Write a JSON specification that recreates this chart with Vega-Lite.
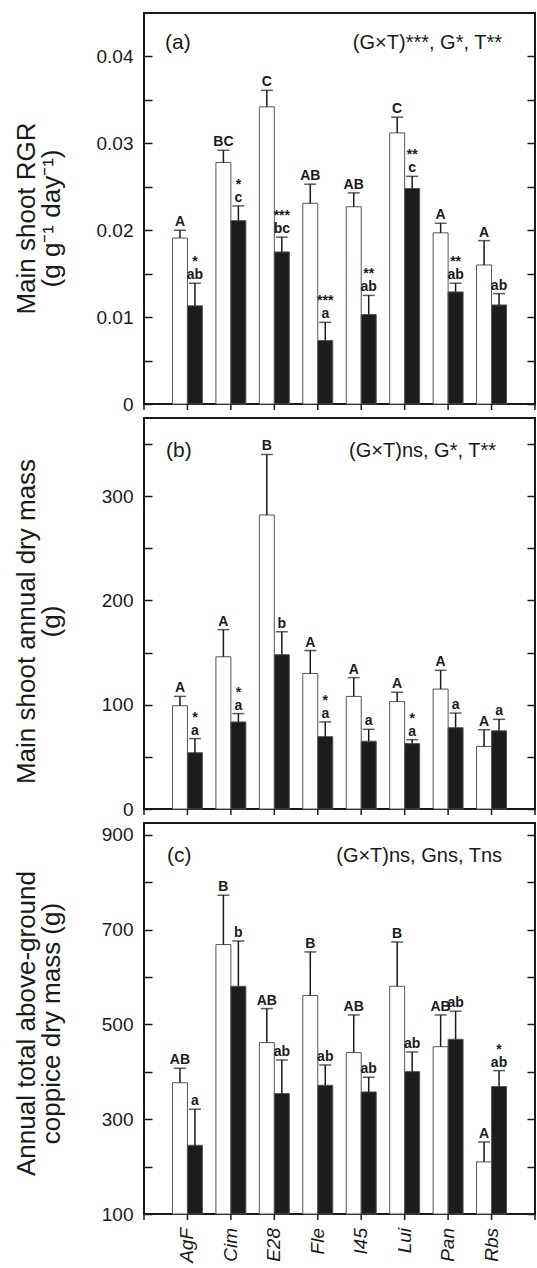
{
  "$schema": "https://vega.github.io/schema/vega-lite/v6.json",
  "padding": {"left": 11, "top": 12, "right": 0, "bottom": 0},
  "background": "white",
  "datasets": {
    "d": [
      {"p": "a", "g": "AgF", "t": "W", "m": 0.0191, "u": 0.0200, "l": "A", "s": ""},
      {"p": "a", "g": "AgF", "t": "B", "m": 0.0113, "u": 0.0139, "l": "ab", "s": "*"},
      {"p": "a", "g": "Cim", "t": "W", "m": 0.0278, "u": 0.0292, "l": "BC", "s": ""},
      {"p": "a", "g": "Cim", "t": "B", "m": 0.0211, "u": 0.0228, "l": "c", "s": "*"},
      {"p": "a", "g": "E28", "t": "W", "m": 0.0342, "u": 0.0361, "l": "C", "s": ""},
      {"p": "a", "g": "E28", "t": "B", "m": 0.0175, "u": 0.0192, "l": "bc", "s": "***"},
      {"p": "a", "g": "Fle", "t": "W", "m": 0.0231, "u": 0.0253, "l": "AB", "s": ""},
      {"p": "a", "g": "Fle", "t": "B", "m": 0.0073, "u": 0.0094, "l": "a", "s": "***"},
      {"p": "a", "g": "I45", "t": "W", "m": 0.0227, "u": 0.0243, "l": "AB", "s": ""},
      {"p": "a", "g": "I45", "t": "B", "m": 0.0103, "u": 0.0125, "l": "ab", "s": "**"},
      {"p": "a", "g": "Lui", "t": "W", "m": 0.0312, "u": 0.0330, "l": "C", "s": ""},
      {"p": "a", "g": "Lui", "t": "B", "m": 0.0248, "u": 0.0262, "l": "c", "s": "**"},
      {"p": "a", "g": "Pan", "t": "W", "m": 0.0197, "u": 0.0208, "l": "A", "s": ""},
      {"p": "a", "g": "Pan", "t": "B", "m": 0.0129, "u": 0.0139, "l": "ab", "s": "**"},
      {"p": "a", "g": "Rbs", "t": "W", "m": 0.0160, "u": 0.0188, "l": "A", "s": ""},
      {"p": "a", "g": "Rbs", "t": "B", "m": 0.0114, "u": 0.0127, "l": "ab", "s": ""},
      {"p": "b", "g": "AgF", "t": "W", "m": 99, "u": 108, "l": "A", "s": ""},
      {"p": "b", "g": "AgF", "t": "B", "m": 54, "u": 67.5, "l": "a", "s": "*"},
      {"p": "b", "g": "Cim", "t": "W", "m": 146, "u": 172, "l": "A", "s": ""},
      {"p": "b", "g": "Cim", "t": "B", "m": 83.5, "u": 91.5, "l": "a", "s": "*"},
      {"p": "b", "g": "E28", "t": "W", "m": 282, "u": 340, "l": "B", "s": ""},
      {"p": "b", "g": "E28", "t": "B", "m": 148, "u": 170, "l": "b", "s": ""},
      {"p": "b", "g": "Fle", "t": "W", "m": 130, "u": 152, "l": "A", "s": ""},
      {"p": "b", "g": "Fle", "t": "B", "m": 69.4, "u": 83.5, "l": "a", "s": "*"},
      {"p": "b", "g": "I45", "t": "W", "m": 108, "u": 126, "l": "A", "s": ""},
      {"p": "b", "g": "I45", "t": "B", "m": 65, "u": 76.4, "l": "a", "s": ""},
      {"p": "b", "g": "Lui", "t": "W", "m": 103, "u": 112, "l": "A", "s": ""},
      {"p": "b", "g": "Lui", "t": "B", "m": 62.7, "u": 66.5, "l": "a", "s": "*"},
      {"p": "b", "g": "Pan", "t": "W", "m": 115, "u": 133, "l": "A", "s": ""},
      {"p": "b", "g": "Pan", "t": "B", "m": 78, "u": 92, "l": "a", "s": ""},
      {"p": "b", "g": "Rbs", "t": "W", "m": 60, "u": 76, "l": "A", "s": ""},
      {"p": "b", "g": "Rbs", "t": "B", "m": 75, "u": 86, "l": "a", "s": ""},
      {"p": "c", "g": "AgF", "t": "W", "m": 377, "u": 407.5, "l": "AB", "s": ""},
      {"p": "c", "g": "AgF", "t": "B", "m": 245, "u": 321, "l": "a", "s": ""},
      {"p": "c", "g": "Cim", "t": "W", "m": 668.5, "u": 772.6, "l": "B", "s": ""},
      {"p": "c", "g": "Cim", "t": "B", "m": 580.5, "u": 676, "l": "b", "s": ""},
      {"p": "c", "g": "E28", "t": "W", "m": 461.6, "u": 533.4, "l": "AB", "s": ""},
      {"p": "c", "g": "E28", "t": "B", "m": 354, "u": 425, "l": "ab", "s": ""},
      {"p": "c", "g": "Fle", "t": "W", "m": 561, "u": 653, "l": "B", "s": ""},
      {"p": "c", "g": "Fle", "t": "B", "m": 371.6, "u": 414.5, "l": "ab", "s": ""},
      {"p": "c", "g": "I45", "t": "W", "m": 440.5, "u": 520, "l": "AB", "s": ""},
      {"p": "c", "g": "I45", "t": "B", "m": 357.5, "u": 388.5, "l": "ab", "s": ""},
      {"p": "c", "g": "Lui", "t": "W", "m": 580.5, "u": 674, "l": "B", "s": ""},
      {"p": "c", "g": "Lui", "t": "B", "m": 400.4, "u": 442, "l": "ab", "s": ""},
      {"p": "c", "g": "Pan", "t": "W", "m": 453, "u": 520, "l": "AB", "s": ""},
      {"p": "c", "g": "Pan", "t": "B", "m": 468.7, "u": 528, "l": "ab", "s": ""},
      {"p": "c", "g": "Rbs", "t": "W", "m": 210, "u": 252, "l": "A", "s": ""},
      {"p": "c", "g": "Rbs", "t": "B", "m": 369, "u": 402.5, "l": "ab", "s": "*"}
    ],
    "ticks": [{"g": "_L"}, {"g": "AgF"}, {"g": "Cim"}, {"g": "E28"}, {"g": "Fle"}, {"g": "I45"}, {"g": "Lui"}, {"g": "Pan"}, {"g": "Rbs"}, {"g": "_R"}],
    "names": [{"g": "AgF"}, {"g": "Cim"}, {"g": "E28"}, {"g": "Fle"}, {"g": "I45"}, {"g": "Lui"}, {"g": "Pan"}, {"g": "Rbs"}]
  },
  "config": {
    "view": {"stroke": "#1a1a1a", "strokeWidth": 2},
    "axis": {"labelFont": "Liberation Sans", "labelFontSize": 19, "labelColor": "#1a1a1a", "tickColor": "#1a1a1a", "tickWidth": 1.5, "titleFont": "Liberation Sans", "titleFontSize": 26, "titleFontWeight": "normal", "titleColor": "#1a1a1a", "domain": false, "grid": false, "labelOverlap": false},
    "text": {"font": "Liberation Sans", "color": "#1a1a1a"}
  },
  "spacing": 14,
  "bounds": "flush",
  "vconcat": [
    {
      "width": 391, "height": 391,
      "data": {"name": "d"},
      "transform": [{"filter": "datum.p === 'a'"}],
      "layer": [
        {
          "mark": {"type": "bar", "stroke": "#555555", "strokeWidth": 1},
          "encoding": {
            "x": {"field": "g", "type": "nominal", "scale": {"type": "band", "domain": ["_L", "AgF", "Cim", "E28", "Fle", "I45", "Lui", "Pan", "Rbs", "_R"], "range": [-21.722, 412.722], "paddingInner": 0, "paddingOuter": 0}, "axis": null},
            "xOffset": {"field": "t", "type": "nominal", "scale": {"domain": ["W", "B"], "paddingInner": 0, "paddingOuter": 0.45}},
            "y": {"field": "m", "type": "quantitative", "scale": {"domain": [0, 0.045], "nice": false, "zero": true},
              "axis": {"orient": "left", "values": [0, 0.005, 0.01, 0.015, 0.02, 0.025, 0.03, 0.035, 0.04], "format": ".2~f", "labelExpr": "abs(datum.value*100 - round(datum.value*100)) < 0.000001 ? datum.label : ''", "tickSize": -8, "labelPadding": 19, "title": ["Main shoot RGR", "(g g⁻¹ day⁻¹)"], "titleX": -105, "titleY": 205, "titleLineHeight": 25}},
            "fill": {"field": "t", "type": "nominal", "scale": {"domain": ["W", "B"], "range": ["#ffffff", "#1c1c1c"]}, "legend": null}
          }
        },
        {
          "mark": {"type": "rule", "color": "#1a1a1a", "strokeWidth": 1.5},
          "encoding": {
            "x": {"field": "g", "type": "nominal", "axis": null},
            "xOffset": {"field": "t", "type": "nominal"},
            "y": {"field": "m", "type": "quantitative", "axis": {"orient": "right", "values": [0, 0.005, 0.01, 0.015, 0.02, 0.025, 0.03, 0.035, 0.04], "labels": false, "tickSize": -8, "title": null}},
            "y2": {"field": "u"}
          }
        },
        {
          "mark": {"type": "tick", "color": "#1a1a1a", "thickness": 1.5, "size": 12},
          "encoding": {"x": {"field": "g", "type": "nominal", "axis": null}, "xOffset": {"field": "t", "type": "nominal"}, "y": {"field": "u", "type": "quantitative", "axis": null}}
        },
        {
          "mark": {"type": "text", "fontSize": 14, "fontWeight": "bold", "baseline": "alphabetic", "dy": -4},
          "encoding": {"x": {"field": "g", "type": "nominal", "axis": null}, "xOffset": {"field": "t", "type": "nominal"}, "y": {"field": "u", "type": "quantitative", "axis": null}, "text": {"field": "l"}}
        },
        {
          "transform": [{"filter": "datum.s !== ''"}],
          "mark": {"type": "text", "fontSize": 14, "fontWeight": "bold", "baseline": "alphabetic", "dy": -17},
          "encoding": {"x": {"field": "g", "type": "nominal", "axis": null}, "xOffset": {"field": "t", "type": "nominal"}, "y": {"field": "u", "type": "quantitative", "axis": null}, "text": {"field": "s"}}
        },
        {
          "data": {"name": "ticks"},
          "mark": {"type": "rule", "color": "#1a1a1a", "strokeWidth": 1.5},
          "encoding": {"x": {"field": "g", "type": "nominal", "axis": null}, "y": {"datum": 0, "type": "quantitative", "axis": null}, "y2": {"datum": -0.00069}}
        },
        {
          "data": {"values": [{"txt": "(a)"}]},
          "mark": {"type": "text", "fontSize": 21, "align": "left", "baseline": "middle", "dx": 21},
          "encoding": {"x": {"datum": "_L", "type": "nominal", "axis": null}, "y": {"datum": 0.0415, "type": "quantitative", "axis": null}, "text": {"field": "txt"}}
        },
        {
          "data": {"values": [{"txt": "(G×T)***, G*, T**"}]},
          "mark": {"type": "text", "fontSize": 20, "align": "right", "baseline": "middle", "dx": -33},
          "encoding": {"x": {"datum": "_R", "type": "nominal", "axis": null}, "y": {"datum": 0.0415, "type": "quantitative", "axis": null}, "text": {"field": "txt"}}
        }
      ],
      "resolve": {"axis": {"y": "independent"}}
    },
    {
      "width": 391, "height": 391,
      "data": {"name": "d"},
      "transform": [{"filter": "datum.p === 'b'"}],
      "layer": [
        {
          "mark": {"type": "bar", "stroke": "#555555", "strokeWidth": 1},
          "encoding": {
            "x": {"field": "g", "type": "nominal", "scale": {"type": "band", "domain": ["_L", "AgF", "Cim", "E28", "Fle", "I45", "Lui", "Pan", "Rbs", "_R"], "range": [-21.722, 412.722], "paddingInner": 0, "paddingOuter": 0}, "axis": null},
            "xOffset": {"field": "t", "type": "nominal", "scale": {"domain": ["W", "B"], "paddingInner": 0, "paddingOuter": 0.45}},
            "y": {"field": "m", "type": "quantitative", "scale": {"domain": [0, 375], "nice": false, "zero": true},
              "axis": {"orient": "left", "values": [0, 50, 100, 150, 200, 250, 300, 350], "format": "d", "labelExpr": "datum.value % 100 === 0 ? datum.label : ''", "tickSize": -8, "labelPadding": 19, "title": ["Main shoot annual dry mass", "(g)"], "titleX": -105, "titleY": 203, "titleLineHeight": 25}},
            "fill": {"field": "t", "type": "nominal", "scale": {"domain": ["W", "B"], "range": ["#ffffff", "#1c1c1c"]}, "legend": null}
          }
        },
        {
          "mark": {"type": "rule", "color": "#1a1a1a", "strokeWidth": 1.5},
          "encoding": {
            "x": {"field": "g", "type": "nominal", "axis": null},
            "xOffset": {"field": "t", "type": "nominal"},
            "y": {"field": "m", "type": "quantitative", "axis": {"orient": "right", "values": [0, 50, 100, 150, 200, 250, 300, 350], "labels": false, "tickSize": -8, "title": null}},
            "y2": {"field": "u"}
          }
        },
        {
          "mark": {"type": "tick", "color": "#1a1a1a", "thickness": 1.5, "size": 12},
          "encoding": {"x": {"field": "g", "type": "nominal", "axis": null}, "xOffset": {"field": "t", "type": "nominal"}, "y": {"field": "u", "type": "quantitative", "axis": null}}
        },
        {
          "mark": {"type": "text", "fontSize": 14, "fontWeight": "bold", "baseline": "alphabetic", "dy": -4},
          "encoding": {"x": {"field": "g", "type": "nominal", "axis": null}, "xOffset": {"field": "t", "type": "nominal"}, "y": {"field": "u", "type": "quantitative", "axis": null}, "text": {"field": "l"}}
        },
        {
          "transform": [{"filter": "datum.s !== ''"}],
          "mark": {"type": "text", "fontSize": 14, "fontWeight": "bold", "baseline": "alphabetic", "dy": -17},
          "encoding": {"x": {"field": "g", "type": "nominal", "axis": null}, "xOffset": {"field": "t", "type": "nominal"}, "y": {"field": "u", "type": "quantitative", "axis": null}, "text": {"field": "s"}}
        },
        {
          "data": {"name": "ticks"},
          "mark": {"type": "rule", "color": "#1a1a1a", "strokeWidth": 1.5},
          "encoding": {"x": {"field": "g", "type": "nominal", "axis": null}, "y": {"datum": 0, "type": "quantitative", "axis": null}, "y2": {"datum": -5.75}}
        },
        {
          "data": {"values": [{"txt": "(b)"}]},
          "mark": {"type": "text", "fontSize": 21, "align": "left", "baseline": "middle", "dx": 22},
          "encoding": {"x": {"datum": "_L", "type": "nominal", "axis": null}, "y": {"datum": 343, "type": "quantitative", "axis": null}, "text": {"field": "txt"}}
        },
        {
          "data": {"values": [{"txt": "(G×T)ns, G*, T**"}]},
          "mark": {"type": "text", "fontSize": 20, "align": "right", "baseline": "middle", "dx": -39},
          "encoding": {"x": {"datum": "_R", "type": "nominal", "axis": null}, "y": {"datum": 343, "type": "quantitative", "axis": null}, "text": {"field": "txt"}}
        }
      ],
      "resolve": {"axis": {"y": "independent"}}
    },
    {
      "width": 391, "height": 391,
      "data": {"name": "d"},
      "transform": [{"filter": "datum.p === 'c'"}],
      "layer": [
        {
          "mark": {"type": "bar", "stroke": "#555555", "strokeWidth": 1},
          "encoding": {
            "x": {"field": "g", "type": "nominal", "scale": {"type": "band", "domain": ["_L", "AgF", "Cim", "E28", "Fle", "I45", "Lui", "Pan", "Rbs", "_R"], "range": [-21.722, 412.722], "paddingInner": 0, "paddingOuter": 0}, "axis": null},
            "xOffset": {"field": "t", "type": "nominal", "scale": {"domain": ["W", "B"], "paddingInner": 0, "paddingOuter": 0.45}},
            "y": {"field": "m", "type": "quantitative", "scale": {"domain": [100, 925], "nice": false, "zero": false},
              "axis": {"orient": "left", "values": [100, 200, 300, 400, 500, 600, 700, 800, 900], "format": "d", "labelExpr": "datum.value % 200 === 100 ? datum.label : ''", "tickSize": -8, "labelPadding": 19, "title": ["Annual total above-ground", "coppice dry mass (g)"], "titleX": -105, "titleY": 200, "titleLineHeight": 25}},
            "y2": {"datum": 100},
            "fill": {"field": "t", "type": "nominal", "scale": {"domain": ["W", "B"], "range": ["#ffffff", "#1c1c1c"]}, "legend": null}
          }
        },
        {
          "mark": {"type": "rule", "color": "#1a1a1a", "strokeWidth": 1.5},
          "encoding": {
            "x": {"field": "g", "type": "nominal", "axis": null},
            "xOffset": {"field": "t", "type": "nominal"},
            "y": {"field": "m", "type": "quantitative", "axis": {"orient": "right", "values": [100, 200, 300, 400, 500, 600, 700, 800, 900], "labels": false, "tickSize": -8, "title": null}},
            "y2": {"field": "u"}
          }
        },
        {
          "mark": {"type": "tick", "color": "#1a1a1a", "thickness": 1.5, "size": 12},
          "encoding": {"x": {"field": "g", "type": "nominal", "axis": null}, "xOffset": {"field": "t", "type": "nominal"}, "y": {"field": "u", "type": "quantitative", "axis": null}}
        },
        {
          "mark": {"type": "text", "fontSize": 14, "fontWeight": "bold", "baseline": "alphabetic", "dy": -4},
          "encoding": {"x": {"field": "g", "type": "nominal", "axis": null}, "xOffset": {"field": "t", "type": "nominal"}, "y": {"field": "u", "type": "quantitative", "axis": null}, "text": {"field": "l"}}
        },
        {
          "transform": [{"filter": "datum.s !== ''"}],
          "mark": {"type": "text", "fontSize": 14, "fontWeight": "bold", "baseline": "alphabetic", "dy": -17},
          "encoding": {"x": {"field": "g", "type": "nominal", "axis": null}, "xOffset": {"field": "t", "type": "nominal"}, "y": {"field": "u", "type": "quantitative", "axis": null}, "text": {"field": "s"}}
        },
        {
          "data": {"name": "ticks"},
          "mark": {"type": "rule", "color": "#1a1a1a", "strokeWidth": 1.5},
          "encoding": {"x": {"field": "g", "type": "nominal", "axis": null}, "y": {"datum": 100, "type": "quantitative", "axis": null}, "y2": {"datum": 87.3}}
        },
        {
          "data": {"name": "names"},
          "mark": {"type": "text", "angle": 270, "align": "right", "baseline": "middle", "dx": -14, "fontSize": 19, "fontStyle": "italic"},
          "encoding": {"x": {"field": "g", "type": "nominal", "axis": null}, "y": {"datum": 100, "type": "quantitative", "axis": null}, "text": {"field": "g"}}
        },
        {
          "data": {"values": [{"txt": "(c)"}]},
          "mark": {"type": "text", "fontSize": 21, "align": "left", "baseline": "middle", "dx": 23},
          "encoding": {"x": {"datum": "_L", "type": "nominal", "axis": null}, "y": {"datum": 856, "type": "quantitative", "axis": null}, "text": {"field": "txt"}}
        },
        {
          "data": {"values": [{"txt": "(G×T)ns, Gns, Tns"}]},
          "mark": {"type": "text", "fontSize": 20, "align": "right", "baseline": "middle", "dx": -33},
          "encoding": {"x": {"datum": "_R", "type": "nominal", "axis": null}, "y": {"datum": 856, "type": "quantitative", "axis": null}, "text": {"field": "txt"}}
        }
      ],
      "resolve": {"axis": {"y": "independent"}}
    }
  ]
}
